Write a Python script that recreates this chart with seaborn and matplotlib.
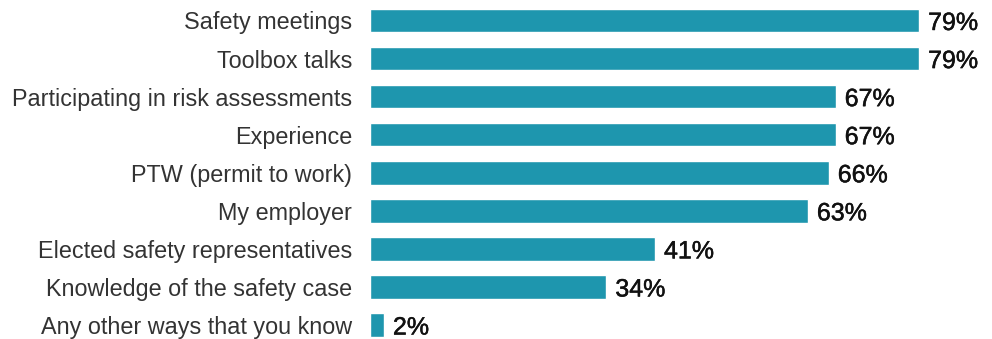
import matplotlib
matplotlib.use("Agg")
import matplotlib.pyplot as plt
import matplotlib.patheffects as pe
import seaborn as sns
import pandas as pd

categories = [
    "Safety meetings",
    "Toolbox talks",
    "Participating in risk assessments",
    "Experience",
    "PTW (permit to work)",
    "My employer",
    "Elected safety representatives",
    "Knowledge of the safety case",
    "Any other ways that you know",
]
values = [79, 79, 67, 67, 66, 63, 41, 34, 2]

df = pd.DataFrame({"category": categories, "value": values})

sns.set_theme(style="white")
plt.rcParams["font.family"] = ["Liberation Sans", "DejaVu Sans"]

fig = plt.figure(figsize=(9.92, 3.39), dpi=100)
ax = fig.add_axes([370 / 992, 0, 622 / 992, 1])

sns.barplot(data=df, x="value", y="category", orient="h", color="#1E96AE",
            saturation=1, width=0.62, ax=ax)

ax.set_xlim(0, 622 / 6.95)
ax.set_ylim(8.367, -0.538)
ax.set_xlabel("")
ax.set_ylabel("")
ax.set_xticks([])
ax.tick_params(axis="y", length=0, pad=13, labelsize=16.8, labelcolor="#333333")
for lbl in ax.get_yticklabels():
    lbl.set_verticalalignment("center_baseline")
for s in ax.spines.values():
    s.set_visible(False)

for i, v in enumerate(values):
    ax.text(v + 1.3, i, f"{v}%", va="center_baseline", ha="left", fontsize=18,
            color="#111111",
            path_effects=[pe.withStroke(linewidth=0.35, foreground="#111111")])

fig.savefig("out.png", dpi=100)
